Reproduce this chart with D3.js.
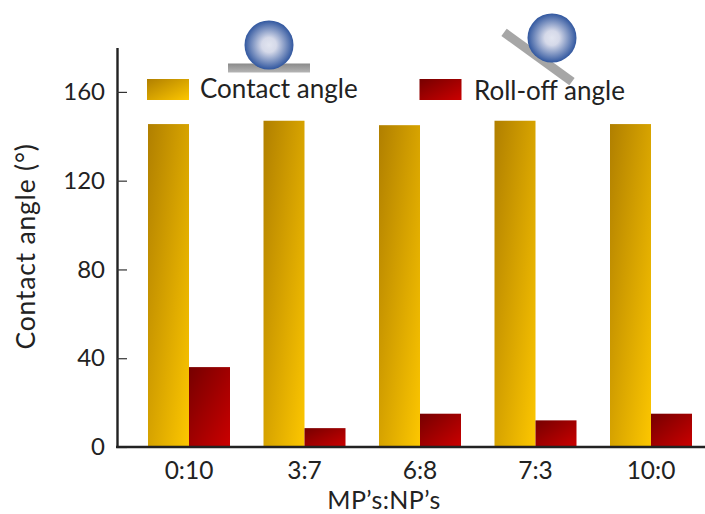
<!DOCTYPE html>
<html>
<head>
<meta charset="utf-8">
<script src="https://cdnjs.cloudflare.com/ajax/libs/d3/7.8.5/d3.min.js"></script>
<style>
  html, body { margin: 0; padding: 0; background: #fff; }
  svg { display: block; }
  text { font-family: Lato, "Open Sans", sans-serif; fill: #222; }
</style>
</head>
<body>
<div id="chart"></div>
<script>
const categories = ["0:10", "3:7", "6:8", "7:3", "10:0"];
const contactAngle = [145.5, 147, 145, 147, 145.5];
const rollOffAngle = [36, 8.5, 15, 12, 15];
const yTicks = [0, 40, 80, 120, 160];

const width = 705, height = 514;
const svg = d3.select("#chart").append("svg")
    .attr("width", width)
    .attr("height", height);

const x = d3.scaleBand().domain(categories).range([131.25, 708.75]).paddingInner(0);
const y = d3.scaleLinear().domain([0, 180]).range([447, 47.5]);
const barW = 41;

const defs = svg.append("defs");

function barGradient(id, c0, c1) {
    const g = defs.append("linearGradient").attr("id", id)
        .attr("x1", 0).attr("y1", 0).attr("x2", 1).attr("y2", 1);
    g.append("stop").attr("offset", "0%").attr("stop-color", c0);
    g.append("stop").attr("offset", "100%").attr("stop-color", c1);
}
barGradient("gold", "#b07f00", "#fdc700");
barGradient("red", "#760000", "#cb0000");

const ballGrad = defs.append("radialGradient").attr("id", "ball");
ballGrad.append("stop").attr("offset", "0%").attr("stop-color", "#e2e5f0");
ballGrad.append("stop").attr("offset", "30%").attr("stop-color", "#d5d9e9");
ballGrad.append("stop").attr("offset", "100%").attr("stop-color", "#31579f");

const plateGrad = defs.append("linearGradient").attr("id", "plate")
    .attr("x1", 0).attr("y1", 0).attr("x2", 0).attr("y2", 1);
plateGrad.append("stop").attr("offset", "0%").attr("stop-color", "#8a8a8a");
plateGrad.append("stop").attr("offset", "100%").attr("stop-color", "#b5b5b5");

// barras
svg.append("g").selectAll("rect")
    .data(contactAngle)
    .join("rect")
    .attr("x", (d, i) => x(categories[i]) + x.bandwidth() / 2 - barW)
    .attr("y", d => y(d))
    .attr("width", barW)
    .attr("height", d => y(0) - y(d))
    .attr("fill", "url(#gold)");

svg.append("g").selectAll("rect")
    .data(rollOffAngle)
    .join("rect")
    .attr("x", (d, i) => x(categories[i]) + x.bandwidth() / 2)
    .attr("y", d => y(d))
    .attr("width", barW)
    .attr("height", d => y(0) - y(d))
    .attr("fill", "url(#red)");

// eixos
const yAxis = svg.append("g")
    .attr("transform", "translate(117,0)")
    .call(d3.axisLeft(y).tickValues(yTicks).tickSizeInner(-10).tickSizeOuter(0).tickPadding(12));
yAxis.selectAll("text").attr("font-size", 24).style("font-family", "Lato");
yAxis.selectAll("line").attr("stroke", "#333").attr("stroke-width", 1.2);
yAxis.select(".domain").attr("stroke", "#222").attr("stroke-width", 2.4);

const xAxis = svg.append("g")
    .attr("transform", "translate(0,447)")
    .call(d3.axisBottom(x).tickSize(0).tickPadding(15));
xAxis.selectAll("text").attr("font-size", 24.5).style("font-family", "Lato");
xAxis.select(".domain").attr("d", "M116,0H705").attr("stroke", "#222").attr("stroke-width", 2.4);

svg.append("text")
    .attr("x", 384).attr("y", 509)
    .attr("text-anchor", "middle")
    .attr("font-size", 25)
    .attr("letter-spacing", 0.4)
    .text("MP\u2019s:NP\u2019s");

svg.append("text")
    .attr("transform", "translate(35,246.5) rotate(-90)")
    .attr("text-anchor", "middle")
    .attr("font-size", 26.5)
    .attr("letter-spacing", 0.8)
    .text("Contact angle (\u00b0)");

// legenda
svg.append("rect").attr("x", 147).attr("y", 79).attr("width", 42).attr("height", 21).attr("fill", "url(#gold)");
svg.append("text").attr("x", 200).attr("y", 98).attr("font-size", 26).text("Contact angle");
svg.append("rect").attr("x", 419.5).attr("y", 79).attr("width", 42).attr("height", 21).attr("fill", "url(#red)");
svg.append("text").attr("x", 474).attr("y", 100).attr("font-size", 26).text("Roll-off angle");

// esferas
svg.append("rect").attr("x", 228).attr("y", 63.5).attr("width", 82).attr("height", 9).attr("fill", "url(#plate)");
svg.append("circle").attr("cx", 269).attr("cy", 45).attr("r", 24.5).attr("fill", "url(#ball)");
svg.append("rect").attr("x", 496).attr("y", 52.5).attr("width", 84).attr("height", 9)
    .attr("fill", "#a6a6a6")
    .attr("transform", "rotate(36 538 57)");
svg.append("circle").attr("cx", 552).attr("cy", 38).attr("r", 24.5).attr("fill", "url(#ball)");
</script>
</body>
</html>
